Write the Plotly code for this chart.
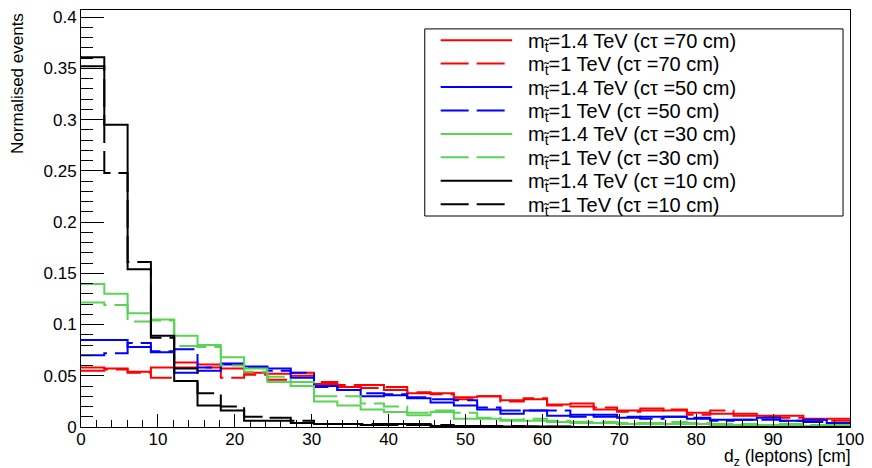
import numpy as np
import plotly.graph_objects as go

# ---------------- data ----------------
x_min, x_max, n_bins = 0.0, 100.0, 33

labels = [
    "m<sub>t̃</sub>=1.4 TeV (cτ =70 cm)",
    "m<sub>t̃</sub>=1 TeV (cτ =70 cm)",
    "m<sub>t̃</sub>=1.4 TeV (cτ =50 cm)",
    "m<sub>t̃</sub>=1 TeV (cτ =50 cm)",
    "m<sub>t̃</sub>=1.4 TeV (cτ =30 cm)",
    "m<sub>t̃</sub>=1 TeV (cτ =30 cm)",
    "m<sub>t̃</sub>=1.4 TeV (cτ =10 cm)",
    "m<sub>t̃</sub>=1 TeV (cτ =10 cm)",
]

red_14_70 = [0.058, 0.057, 0.054, 0.058, 0.063, 0.061, 0.057, 0.053, 0.052, 0.053, 0.042,
             0.039, 0.041, 0.036, 0.033, 0.033, 0.029, 0.030, 0.026, 0.027, 0.022, 0.023,
             0.017, 0.016, 0.018, 0.016, 0.014, 0.013, 0.013, 0.011, 0.011, 0.007, 0.008]
red_1_70 = [0.055, 0.056, 0.053, 0.048, 0.058, 0.058, 0.048, 0.051, 0.046, 0.050, 0.044,
            0.041, 0.038, 0.039, 0.034, 0.032, 0.027, 0.030, 0.025, 0.028, 0.021, 0.020,
            0.019, 0.015, 0.016, 0.017, 0.012, 0.016, 0.011, 0.010, 0.009, 0.008, 0.006]
blue_14_50 = [0.085, 0.085, 0.078, 0.073, 0.053, 0.055, 0.061, 0.059, 0.057, 0.048, 0.040,
              0.036, 0.030, 0.031, 0.028, 0.024, 0.021, 0.017, 0.013, 0.016, 0.011, 0.012,
              0.010, 0.009, 0.010, 0.010, 0.008, 0.007, 0.007, 0.009, 0.006, 0.007, 0.004]
blue_1_50 = [0.070, 0.072, 0.082, 0.074, 0.076, 0.058, 0.062, 0.058, 0.055, 0.053, 0.039,
             0.036, 0.033, 0.032, 0.029, 0.027, 0.026, 0.019, 0.016, 0.016, 0.016, 0.010,
             0.012, 0.010, 0.008, 0.010, 0.009, 0.006, 0.007, 0.007, 0.006, 0.005, 0.004]
green_14_30 = [0.1395, 0.130, 0.111, 0.105, 0.089, 0.080, 0.068, 0.057, 0.044, 0.040, 0.025,
               0.021, 0.017, 0.0146, 0.0114, 0.0146, 0.008, 0.008, 0.006, 0.006, 0.005, 0.004,
               0.004, 0.003, 0.003, 0.003, 0.003, 0.002, 0.002, 0.002, 0.002, 0.001, 0.002]
green_1_30 = [0.1215, 0.119, 0.103, 0.104, 0.079, 0.078, 0.060, 0.054, 0.049, 0.044, 0.030,
              0.030, 0.023, 0.020, 0.014, 0.016, 0.014, 0.009, 0.007, 0.008, 0.006, 0.005,
              0.005, 0.004, 0.004, 0.005, 0.004, 0.003, 0.003, 0.002, 0.003, 0.002, 0.002]
black_14_10 = [0.361, 0.295, 0.154, 0.089, 0.045, 0.021, 0.016, 0.006, 0.006, 0.004, 0.003,
               0.003, 0.002, 0.003, 0.002, 0.001, 0.001, 0.001, 0.0005, 0.0005, 0.0003, 0.0,
               0.0, 0.0, 0.0, 0.0, 0.0, 0.0, 0.0, 0.0, 0.0, 0.0, 0.0]
black_1_10 = [0.352, 0.248, 0.161, 0.087, 0.057, 0.033, 0.020, 0.010, 0.009, 0.006, 0.003,
              0.003, 0.003, 0.002, 0.003, 0.002, 0.001, 0.001, 0.001, 0.0005, 0.0005, 0.0,
              0.0, 0.0, 0.0, 0.0, 0.0, 0.0, 0.0, 0.0, 0.0, 0.0, 0.0]

series = [red_14_70, red_1_70, blue_14_50, blue_1_50,
          green_14_30, green_1_30, black_14_10, black_1_10]
colors = ["#ff0000", "#ff0000", "#0000ff", "#0000ff",
          "#59d454", "#59d454", "#000000", "#000000"]
dashes = ["solid", "28px,8px"] * 4

# ---------------- layout geometry ----------------
W, H = 872, 468
L, R, T, B = 81, 17, 8, 41
PW, PH = W - L - R, H - T - B

def px_to_paper(px, py):
    return (px - L) / PW, (H - B - py) / PH

edges = np.linspace(x_min, x_max, n_bins + 1)

fig = go.Figure()
for vals, col, dsh, lab in zip(series, colors, dashes, labels):
    y = list(vals) + [vals[-1]]
    fig.add_trace(go.Scatter(
        x=edges, y=y, mode="lines", line_shape="hv",
        line=dict(color=col, width=2, dash=dsh),
        name=lab, showlegend=False, hoverinfo="skip"))

font_family = "Liberation Sans, Arial, sans-serif"

fig.update_layout(
    width=W, height=H,
    margin=dict(l=L, r=R, t=T, b=B),
    paper_bgcolor="white", plot_bgcolor="white",
    font=dict(family=font_family, color="black", size=17),
    hovermode=False,
    xaxis=dict(range=[x_min, x_max], dtick=10, tick0=0,
               ticks="inside", ticklen=13, tickwidth=1, tickcolor="black",
               minor=dict(dtick=2, ticks="inside", ticklen=7, tickwidth=1, tickcolor="black"),
               showline=True, linecolor="black", linewidth=1, mirror=True,
               showgrid=False, zeroline=False, tickfont=dict(size=17),
               ticklabelstandoff=-3),
    yaxis=dict(range=[0, 0.407], dtick=0.05, tick0=0,
               ticks="inside", ticklen=23, tickwidth=1, tickcolor="black",
               minor=dict(dtick=0.01, ticks="inside", ticklen=12, tickwidth=1, tickcolor="black"),
               showline=True, linecolor="black", linewidth=1, mirror=True,
               showgrid=False, zeroline=False, tickfont=dict(size=17)),
)

# axis titles (ROOT style: aligned to the ends)
ax_x, ax_y = px_to_paper(858, 458)
fig.add_annotation(text="d<sub>z</sub> (leptons) [cm]", xref="paper", yref="paper",
                   x=ax_x, y=ax_y, xanchor="right", yanchor="middle", showarrow=False,
                   font=dict(size=17.5))
ay_x, ay_y = px_to_paper(17, 9)
fig.add_annotation(text="Normalised events", xref="paper", yref="paper",
                   x=ay_x, y=ay_y, xanchor="center", yanchor="top", textangle=-90,
                   showarrow=False, font=dict(size=17))

# legend drawn by hand (ROOT TLegend look)
bx0, by0 = px_to_paper(427, 27)
bx1, by1 = px_to_paper(848, 215)
fig.add_shape(type="rect", xref="paper", yref="paper", x0=bx0, y0=by1, x1=bx1, y1=by0,
              line=dict(color="black", width=1), fillcolor="white", layer="above")
row0, row_step = 38.3, 23.55
for i, (col, dsh, lab) in enumerate(zip(colors, dashes, labels)):
    py = row0 + i * row_step
    lx0, ly = px_to_paper(443, py)
    lx1, _ = px_to_paper(515, py)
    fig.add_shape(type="line", xref="paper", yref="paper", x0=lx0, y0=ly, x1=lx1, y1=ly,
                  line=dict(color=col, width=2, dash=dsh), layer="above")
    tx, ty = px_to_paper(529, py + 2)
    fig.add_annotation(text=lab, xref="paper", yref="paper", x=tx, y=ty,
                       xanchor="left", yanchor="middle", showarrow=False,
                       font=dict(size=20))

fig.write_html("out.html", post_script="document.body.style.margin='0px';",
               config={"displayModeBar": False, "staticPlot": True})
